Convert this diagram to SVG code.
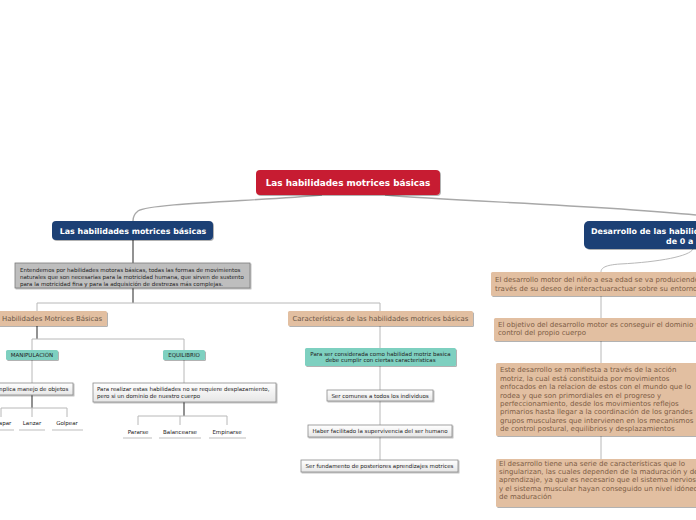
<svg xmlns="http://www.w3.org/2000/svg" width="696" height="520" viewBox="0 0 696 520">
<defs>
<filter id="sh" x="-10%" y="-20%" width="120%" height="160%"><feDropShadow dx="1" dy="1" stdDeviation="0.6" flood-color="#000" flood-opacity="0.3"/></filter>
<linearGradient id="wg" x1="0" y1="0" x2="0" y2="1"><stop offset="0" stop-color="#ffffff"/><stop offset="1" stop-color="#e6e6e6"/></linearGradient>
<style>
text{font-family:"DejaVu Sans","Verdana",sans-serif}
.root{fill:#C71F32}
.blue{fill:#1B3F74}
.tan{fill:#E2BFA1}
.teal{fill:#7ED0C0}
.wbox{fill:url(#wg);stroke:#8a8a8a;stroke-width:0.8}
.gbox{fill:#BEBEBE;stroke:#7a7a7a;stroke-width:0.8}
.tb{fill:#fff;font-weight:bold}
.sm{font-size:5.5px;fill:#222}
.tt{font-size:7px;fill:#7d5d45}
.th{font-size:6.9px;fill:#6a5646}
.c{stroke:#b8b8b8;stroke-width:1;fill:none}
.cd{stroke:#6e6e6e;stroke-width:1.5;fill:none}
.cc{stroke:#a8a8a8;stroke-width:1.4;fill:none}
.ul{stroke:#bdbdbd;stroke-width:1}
</style>
</defs>
<rect width="696" height="520" fill="#fff"/>
<g id="connectors">
<path class="cc" d="M322,195 C260,201 150,203 138,211 Q133,215 133,221"/>
<path class="cc" d="M385,195 C450,201 600,205 696,215"/>
<path class="cd" d="M133,240 V263"/>
<path class="cd" d="M133,288 V303"/>
<path class="c" d="M37,311 V303 H380 V311"/>
<path class="cd" d="M37,326 V339"/>
<path class="c" d="M32,350 V339 H184 V350"/>
<path class="c" d="M32,360 V383"/>
<path class="c" d="M184,360 V383"/>
<path class="cd" d="M32,395 V408"/>
<path class="c" d="M1,417 V408 H67 V417 M32,408 V417"/>
<path class="cd" d="M184,402 V416"/>
<path class="c" d="M138,425 V416 H227 V425 M180,416 V425"/>
<path class="c" d="M380,326 V348"/>
<path class="c" d="M380,366 V390"/>
<path class="c" d="M380,401 V425"/>
<path class="c" d="M380,437 V460"/>
<path class="c" d="M693,249 C690,256 660,262 620,264 C605,265 601,268 601,272"/>
<path class="c" d="M601,296 V318"/>
<path class="c" d="M601,341 V363"/>
<path class="c" d="M601,436 V459"/>
</g>
<g id="root"><rect class="root" x="256" y="170" width="184" height="25" rx="4" filter="url(#sh)"/><text class="tb" x="348" y="186" font-size="8.9" text-anchor="middle">Las habilidades motrices básicas</text></g>
<g id="left-main"><rect class="blue" x="52" y="221" width="161" height="19" rx="4" filter="url(#sh)"/><text class="tb" x="133" y="234" font-size="7.9" text-anchor="middle">Las habilidades motrices básicas</text></g>
<g id="right-main"><rect class="blue" x="584" y="221" width="200" height="28" rx="5" filter="url(#sh)"/><text class="tb" x="591" y="234" font-size="7.9">Desarrollo de las habilidades motrices</text><text class="tb" x="666" y="243.5" font-size="7.9">de 0 a 6 años</text></g>
<g id="desc"><rect class="gbox" x="15" y="263" width="235" height="25" filter="url(#sh)"/><text class="sm" x="20" y="272"><tspan x="20">Entendemos por habilidades motoras básicas, todas las formas de movimientos</tspan><tspan x="20" dy="6.8">naturales que son necesarias  para la motricidad humana, que sirven de sustento</tspan><tspan x="20" dy="6.8">para la motricidad fina y para la adquisición de destrezas más complejas.</tspan></text></g>
<g id="hmb"><rect class="tan" x="-6" y="311" width="113" height="15" rx="1.5" filter="url(#sh)"/><text class="th" x="52" y="321" text-anchor="middle">Habilidades Motrices Básicas</text></g>
<g id="carac"><rect class="tan" x="288" y="311" width="185" height="15" rx="1.5" filter="url(#sh)"/><text class="th" x="380.5" y="321" text-anchor="middle">Características de las habilidades motrices básicas</text></g>
<g id="manip"><rect class="teal" x="6" y="350" width="52" height="10" rx="1.5" filter="url(#sh)"/><text class="sm" x="32" y="357" text-anchor="middle">MANIPULACIÓN</text></g>
<g id="equil"><rect class="teal" x="163" y="350" width="42" height="10" rx="1.5" filter="url(#sh)"/><text class="sm" x="184" y="357" text-anchor="middle">EQUILIBRIO</text></g>
<g id="implica"><rect class="wbox" x="-10" y="383" width="83" height="12" filter="url(#sh)"/><text class="sm" x="32" y="391" text-anchor="middle">Implica manejo de objetos</text></g>
<g id="atrapar"><text class="sm" x="1" y="425" text-anchor="middle">Atrapar</text><line class="ul" x1="-14" y1="430" x2="14" y2="430"/></g>
<g id="lanzar"><text class="sm" x="32" y="425" text-anchor="middle">Lanzar</text><line class="ul" x1="19" y1="430" x2="45" y2="430"/></g>
<g id="golpear"><text class="sm" x="67" y="425" text-anchor="middle">Golpear</text><line class="ul" x1="52" y1="430" x2="83" y2="430"/></g>
<g id="para-realizar"><rect class="wbox" x="93" y="383" width="183" height="19" filter="url(#sh)"/><text class="sm" x="97" y="391"><tspan x="97">Para realizar estas habilidades no se requiere desplazamiento,</tspan><tspan x="97" dy="6.8">pero si un dominio de nuestro cuerpo</tspan></text></g>
<g id="pararse"><text class="sm" x="138" y="434" text-anchor="middle">Pararse</text><line class="ul" x1="123" y1="438" x2="152" y2="438"/></g>
<g id="balancearse"><text class="sm" x="180" y="434" text-anchor="middle">Balancearse</text><line class="ul" x1="159" y1="438" x2="201" y2="438"/></g>
<g id="empinarse"><text class="sm" x="227" y="434" text-anchor="middle">Empinarse</text><line class="ul" x1="209" y1="438" x2="246" y2="438"/></g>
<g id="para-ser"><rect class="teal" x="305" y="348" width="151" height="18" rx="1.5" filter="url(#sh)"/><text class="sm" x="380.5" y="355.5" text-anchor="middle"><tspan x="380.5">Para ser considerada como habilidad motriz basica</tspan><tspan x="380.5" dy="6.8">debe cumplir con ciertas caracteristicas</tspan></text></g>
<g id="comunes"><rect class="wbox" x="327" y="390" width="106" height="11" filter="url(#sh)"/><text class="sm" x="380" y="397.5" text-anchor="middle">Ser comunes a todos los individuos</text></g>
<g id="haber"><rect class="wbox" x="308" y="425" width="144" height="12" filter="url(#sh)"/><text class="sm" x="380" y="433" text-anchor="middle">Haber facilitado la supervivencia del ser humano</text></g>
<g id="fundamento"><rect class="wbox" x="301" y="460" width="157" height="12" filter="url(#sh)"/><text class="sm" x="379.5" y="468" text-anchor="middle">Ser fundamento de posteriores aprendizajes motrices</text></g>
<g id="tan1"><rect class="tan" x="491" y="272" width="230" height="24" rx="1.5" filter="url(#sh)"/><text class="tt" x="495" y="282.3"><tspan x="495">El desarrollo motor del niño a esa edad se va produciendo a</tspan><tspan x="495" dy="8.5">través de su deseo de interactuaractuar sobre su entorno</tspan></text></g>
<g id="tan2"><rect class="tan" x="494" y="318" width="230" height="23" rx="1.5" filter="url(#sh)"/><text class="tt" x="498" y="326.8"><tspan x="498">El objetivo del desarrollo motor es conseguir el dominio y el</tspan><tspan x="498" dy="8.5">control del propio cuerpo</tspan></text></g>
<g id="tan3"><rect class="tan" x="496" y="363" width="230" height="73" rx="1.5" filter="url(#sh)"/><text class="tt" x="500" y="372.3"><tspan x="500">Este desarrollo se manifiesta a través de la acción</tspan><tspan x="500" dy="8.4">motriz, la cual está constituida por movimientos</tspan><tspan x="500" dy="8.4">enfocados en la relacion de estos con el mundo que lo</tspan><tspan x="500" dy="8.4">rodea y que son primordiales en el progreso y</tspan><tspan x="500" dy="8.4">perfeccionamiento, desde los movimientos reflejos</tspan><tspan x="500" dy="8.4">primarios hasta llegar a la coordinación de los grandes</tspan><tspan x="500" dy="8.4">grupos musculares que intervienen en los mecanismos</tspan><tspan x="500" dy="8.4">de control postural, equilibrios y desplazamientos</tspan></text></g>
<g id="tan4"><rect class="tan" x="496" y="459" width="230" height="48" rx="1.5" filter="url(#sh)"/><text class="tt" x="499" y="465.6"><tspan x="499">El desarrollo tiene una serie de características que lo</tspan><tspan x="499" dy="8.4">singularizan, las cuales dependen de la maduración y del</tspan><tspan x="499" dy="8.4">aprendizaje, ya que es necesario que el sistema nervioso</tspan><tspan x="499" dy="8.4">y el sistema muscular hayan conseguido un nivel idóneo</tspan><tspan x="499" dy="8.4">de maduración</tspan></text></g>
</svg>
